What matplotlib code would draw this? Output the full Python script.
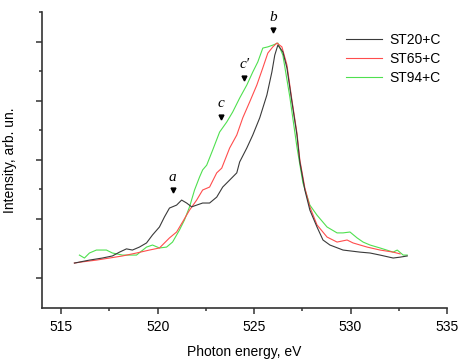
import matplotlib
matplotlib.use("Agg")
import matplotlib.pyplot as plt
from matplotlib.ticker import MultipleLocator, FixedLocator

plt.rcParams["font.family"] = ["Liberation Sans", "DejaVu Sans"]

# ST20+C
x_st20 = [515.68, 516.46, 517.13, 517.65, 518.02, 518.38, 518.69, 519.05, 519.42, 519.73,
          520.09, 520.35, 520.61, 520.98, 521.24, 521.50, 521.76, 522.02, 522.33, 522.69,
          523.06, 523.37, 523.63, 524.10, 524.25, 524.62, 524.93, 525.29, 525.66, 525.92,
          526.07, 526.23, 526.49, 526.70, 526.96, 527.22, 527.37, 527.63, 527.89, 528.26,
          528.57, 528.93, 529.61, 530.49, 531.01, 531.53, 532.21, 532.57, 532.94]
y_st20 = [1.51, 1.61, 1.68, 1.75, 1.88, 1.99, 1.95, 2.05, 2.19, 2.46,
          2.73, 3.07, 3.37, 3.47, 3.64, 3.54, 3.41, 3.47, 3.54, 3.54,
          3.74, 4.08, 4.25, 4.56, 4.93, 5.40, 5.84, 6.42, 7.19, 7.97,
          8.54, 8.88, 8.65, 8.11, 6.96, 5.84, 4.93, 3.98, 3.30, 2.73,
          2.29, 2.12, 1.95, 1.88, 1.85, 1.78, 1.68, 1.71, 1.75]

# ST65+C
x_st65 = [515.68, 516.09, 516.82, 517.50, 518.17, 518.90, 519.57, 520.09, 520.61, 520.98,
          521.29, 521.65, 522.02, 522.33, 522.69, 523.06, 523.32, 523.73, 524.10, 524.41,
          524.77, 525.14, 525.45, 525.71, 525.97, 526.18, 526.44, 526.70, 526.96, 527.22,
          527.37, 527.63, 527.89, 528.26, 528.78, 529.30, 529.82, 530.13, 530.86, 531.53,
          532.21, 532.57]
y_st65 = [1.51, 1.55, 1.61, 1.68, 1.75, 1.85, 1.95, 2.02, 2.36, 2.56,
          2.90, 3.30, 3.64, 3.98, 4.08, 4.56, 4.72, 5.40, 5.84, 6.42,
          6.96, 7.53, 8.11, 8.61, 8.82, 8.95, 8.82, 8.21, 7.02, 5.91,
          5.00, 4.05, 3.41, 2.80, 2.39, 2.22, 2.29, 2.19, 2.05, 1.95,
          1.88, 1.82]

# ST94+C
x_st94 = [515.94, 516.20, 516.46, 516.82, 517.34, 517.65, 518.17, 518.90, 519.42, 519.73,
          520.09, 520.46, 520.77, 521.13, 521.39, 521.65, 521.91, 522.17, 522.33, 522.54,
          522.85, 523.21, 523.58, 523.89, 524.25, 524.62, 524.93, 525.19, 525.45, 525.71,
          525.97, 526.23, 526.49, 526.85, 527.22, 527.53, 527.89, 528.26, 528.78, 529.30,
          529.61, 529.97, 530.34, 530.65, 531.01, 531.53, 532.21, 532.42, 532.73, 532.94]
y_st94 = [1.78, 1.68, 1.85, 1.95, 1.95, 1.85, 1.78, 1.78, 2.05, 2.12,
          2.02, 2.05, 2.22, 2.63, 2.97, 3.41, 3.98, 4.42, 4.66, 4.82,
          5.33, 5.94, 6.28, 6.62, 7.09, 7.53, 7.97, 8.31, 8.78, 8.82,
          8.88, 8.95, 8.54, 7.13, 5.43, 4.22, 3.47, 3.13, 2.73, 2.53,
          2.53, 2.56, 2.36, 2.22, 2.12, 2.02, 1.88, 1.95, 1.78, 1.78]

# feature labels: name, energy, arrow height, text height
feat_names = ["a", "c", "c\u2032", "b"]
feat_x = [520.77, 523.27, 524.50, 525.97]
feat_arrow_y = [3.98, 6.45, 7.77, 9.39]
feat_text_y = [4.39, 6.92, 8.21, 9.80]

fig = plt.figure(figsize=(4.6, 3.61), dpi=100)
ax = fig.add_axes([0.0913, 0.1476, 0.8804, 0.8192])

ax.plot(x_st20, y_st20, color="#3a3a3a", lw=0.8, label="ST20+C", zorder=3)
ax.plot(x_st65, y_st65, color="#ff4d4d", lw=0.8, label="ST65+C", zorder=2)
ax.plot(x_st94, y_st94, color="#4fe04f", lw=0.8, label="ST94+C", zorder=1)

for name, fx, ay, ty in zip(feat_names, feat_x, feat_arrow_y, feat_text_y):
    ax.plot(fx, ay, marker="v", color="black", markersize=3.5)
    ax.text(fx, ty, name, ha="center", va="center", fontsize=11,
            family="Liberation Serif", style="italic")

ax.set_xlim(514, 535)
ax.set_ylim(0, 10)
ax.xaxis.set_major_locator(MultipleLocator(5))
ax.xaxis.set_minor_locator(MultipleLocator(2.5))
ax.yaxis.set_major_locator(FixedLocator([1, 3, 5, 7, 9]))
ax.yaxis.set_minor_locator(FixedLocator([2, 4, 6, 8, 10]))
ax.set_yticklabels([])

ax.spines["top"].set_visible(False)
ax.spines["right"].set_visible(False)
for s in ["left", "bottom"]:
    ax.spines[s].set_color("#333333")
    ax.spines[s].set_linewidth(1.2)
ax.tick_params(which="major", direction="out", length=4, width=1.1, color="#333333",
               labelsize=10, pad=5)
ax.tick_params(which="minor", direction="out", length=2, width=1.1, color="#333333")

ax.set_xlabel("Photon energy, eV", fontsize=10, labelpad=8)
ax.set_ylabel("Intensity, arb. un.", fontsize=10)
ax.yaxis.set_label_coords(-0.062, 0.5)

ax.legend(loc="upper right", bbox_to_anchor=(1.015, 0.97), frameon=False, fontsize=10,
          handlelength=2.6, handletextpad=0.5, labelspacing=0.35)

fig.savefig("out.png", dpi=100)
